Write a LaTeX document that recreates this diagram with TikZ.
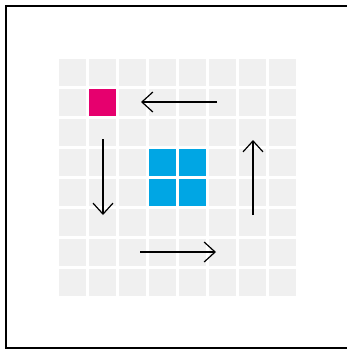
\documentclass[tikz,border=0pt]{standalone}
\usetikzlibrary{arrows.meta}
\definecolor{cellgrey}{HTML}{F0F0F0}
\definecolor{mag}{HTML}{E6006E}
\definecolor{cyanblue}{HTML}{00A6E4}
\begin{document}
\begin{tikzpicture}[x=1pt,y=-1pt,
  cell/.style={fill=cellgrey,draw=none,minimum size=27pt,inner sep=0pt,outer sep=0pt,anchor=north west},
  redcell/.style={cell,fill=mag},
  bluecell/.style={cell,fill=cyanblue},
  move/.style={line width=1.2pt,-{Straight Barb[length=11pt,width=20pt]}},
  frame/.style={line width=2.3pt}]
\useasboundingbox (0,0) rectangle (347,349);
\draw[frame] (5.9,5.9) rectangle (352,348.5);
\foreach \i in {0,...,7}{
  \foreach \j in {0,...,7}{
    \node[cell] (c\i\j) at ({59+30*\i},{59+30*\j}) {};
  }
}
\node[redcell] (m) at (89,89) {};
\node[bluecell] (b33) at (149,149) {};
\node[bluecell] (b43) at (179,149) {};
\node[bluecell] (b34) at (149,179) {};
\node[bluecell] (b44) at (179,179) {};
\coordinate (l1) at (217,102);
\coordinate (l2) at (141,102);
\coordinate (d1) at (103,139);
\coordinate (d2) at (103,215);
\coordinate (u1) at (253,215);
\coordinate (u2) at (253,140);
\coordinate (r1) at (140,252);
\coordinate (r2) at (216,252);
\draw[move] (l1) -- (l2);
\draw[move] (d1) -- (d2);
\draw[move] (u1) -- (u2);
\draw[move] (r1) -- (r2);
\end{tikzpicture}
\end{document}
